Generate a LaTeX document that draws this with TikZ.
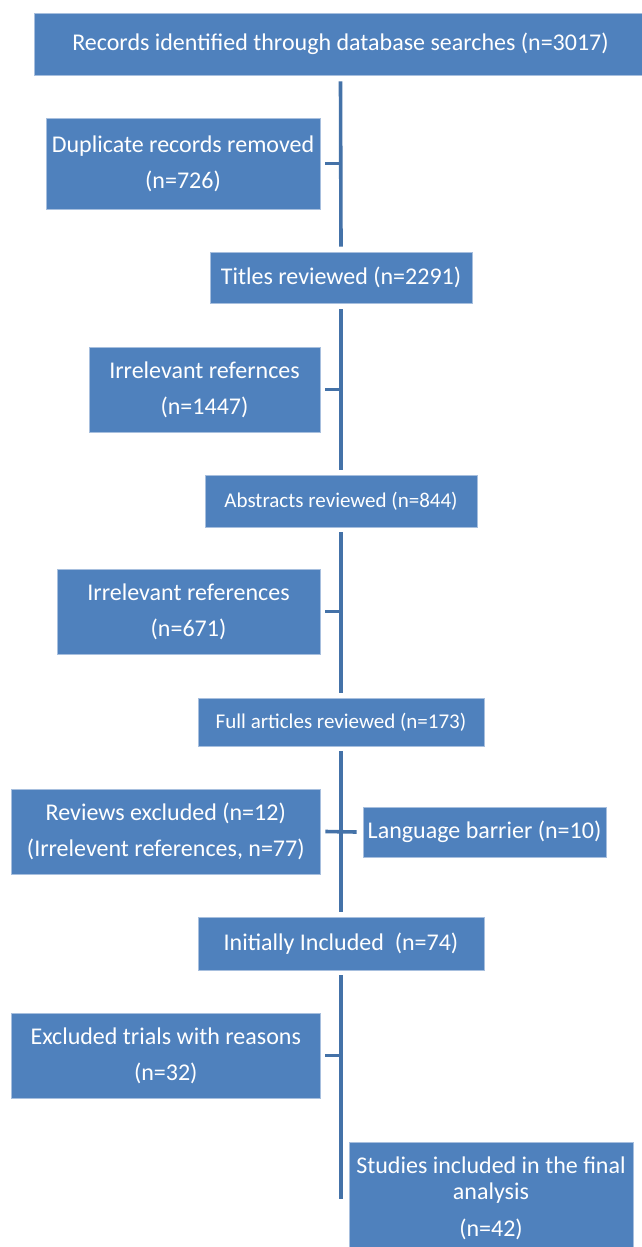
\documentclass[tikz,border=0pt]{standalone}
\usepackage{fontspec}
\setmainfont{Carlito}
\definecolor{boxblue}{HTML}{4F81BD}
\definecolor{edgeblue}{HTML}{A7BFDE}
\definecolor{lineblue}{HTML}{4472A8}
\tikzset{
  box/.style={fill=boxblue, draw=edgeblue, line width=0.8pt, text=white, inner sep=0pt, align=center,
    font=\fontsize{24}{36}\selectfont},
  smallbox/.style={box, font=\fontsize{21}{30}\selectfont},
  flow/.style={draw=lineblue, line width=3.6pt}
}
\begin{document}
\begin{tikzpicture}[x=1pt,y=-1pt]
\clip (0,0) rectangle (642,1247);
\fill[white] (0,0) rectangle (642,1247);
\node[box, minimum width=613pt, minimum height=62pt] (rec) at (340.5,44) {Records identified through database searches (n=3017)};
\node[box, minimum width=274pt, minimum height=91pt] (dup) at (183,163.5) {Duplicate records removed\\(n=726)};
\node[box, minimum width=262pt, minimum height=51pt] (tit) at (341,277.5) {Titles reviewed (n=2291)};
\node[box, minimum width=231pt, minimum height=85pt] (irr1) at (204.5,389.5) {Irrelevant refernces\\(n=1447)};
\node[smallbox, minimum width=272pt, minimum height=52pt] (abs) at (341,501) {Abstracts reviewed (n=844)};
\node[box, minimum width=263pt, minimum height=85pt] (irr2) at (188.5,611.5) {Irrelevant references\\(n=671)};
\node[smallbox, minimum width=286pt, minimum height=48pt] (full) at (341,722) {Full articles reviewed (n=173)};
\node[box, minimum width=308.5pt, minimum height=85pt] (rev) at (165.75,831.5) {Reviews excluded (n=12)\\(Irrelevent references, n=77)};
\node[box, minimum width=243pt, minimum height=50pt] (lang) at (484.5,832) {Language barrier (n=10)};
\node[box, minimum width=286pt, minimum height=53pt] (init) at (341,943.5) {Initially Included\ \ (n=74)};
\node[box, minimum width=308.5pt, minimum height=85pt] (exc) at (165.75,1055.5) {Excluded trials with reasons\\(n=32)};
\node[box, minimum width=284pt, minimum height=113pt, font=\fontsize{24}{26}\selectfont] (stu) at (491,1198.5) {Studies included in the final\\analysis\\[11pt](n=42)};
\coordinate (end) at (341,1199);
% main vertical connectors
\draw[flow] ([yshift=-6pt]rec.south) -- ([yshift=5pt]tit.north);
\draw[flow] ([yshift=-6pt]tit.south) -- ([yshift=5pt]abs.north);
\draw[flow] ([yshift=-5pt]abs.south) -- ([yshift=5pt]full.north);
\draw[flow] ([yshift=-5pt]full.south) -- ([yshift=5pt]init.north);
\draw[flow] ([yshift=-5pt]init.south) -- (end);
% side stubs
\draw[flow] ([xshift=5pt]dup.east) -- (dup.east -| tit.north);
\draw[flow] ([xshift=5pt]irr1.east) -- (irr1.east -| tit.south);
\draw[flow] ([xshift=5pt]irr2.east) -- (irr2.east -| abs.south);
\draw[flow] ([xshift=5pt]rev.east) -- ([xshift=-6pt]lang.west);
\draw[flow] ([xshift=5pt]exc.east) -- (exc.east -| init.south);
\end{tikzpicture}
\end{document}
